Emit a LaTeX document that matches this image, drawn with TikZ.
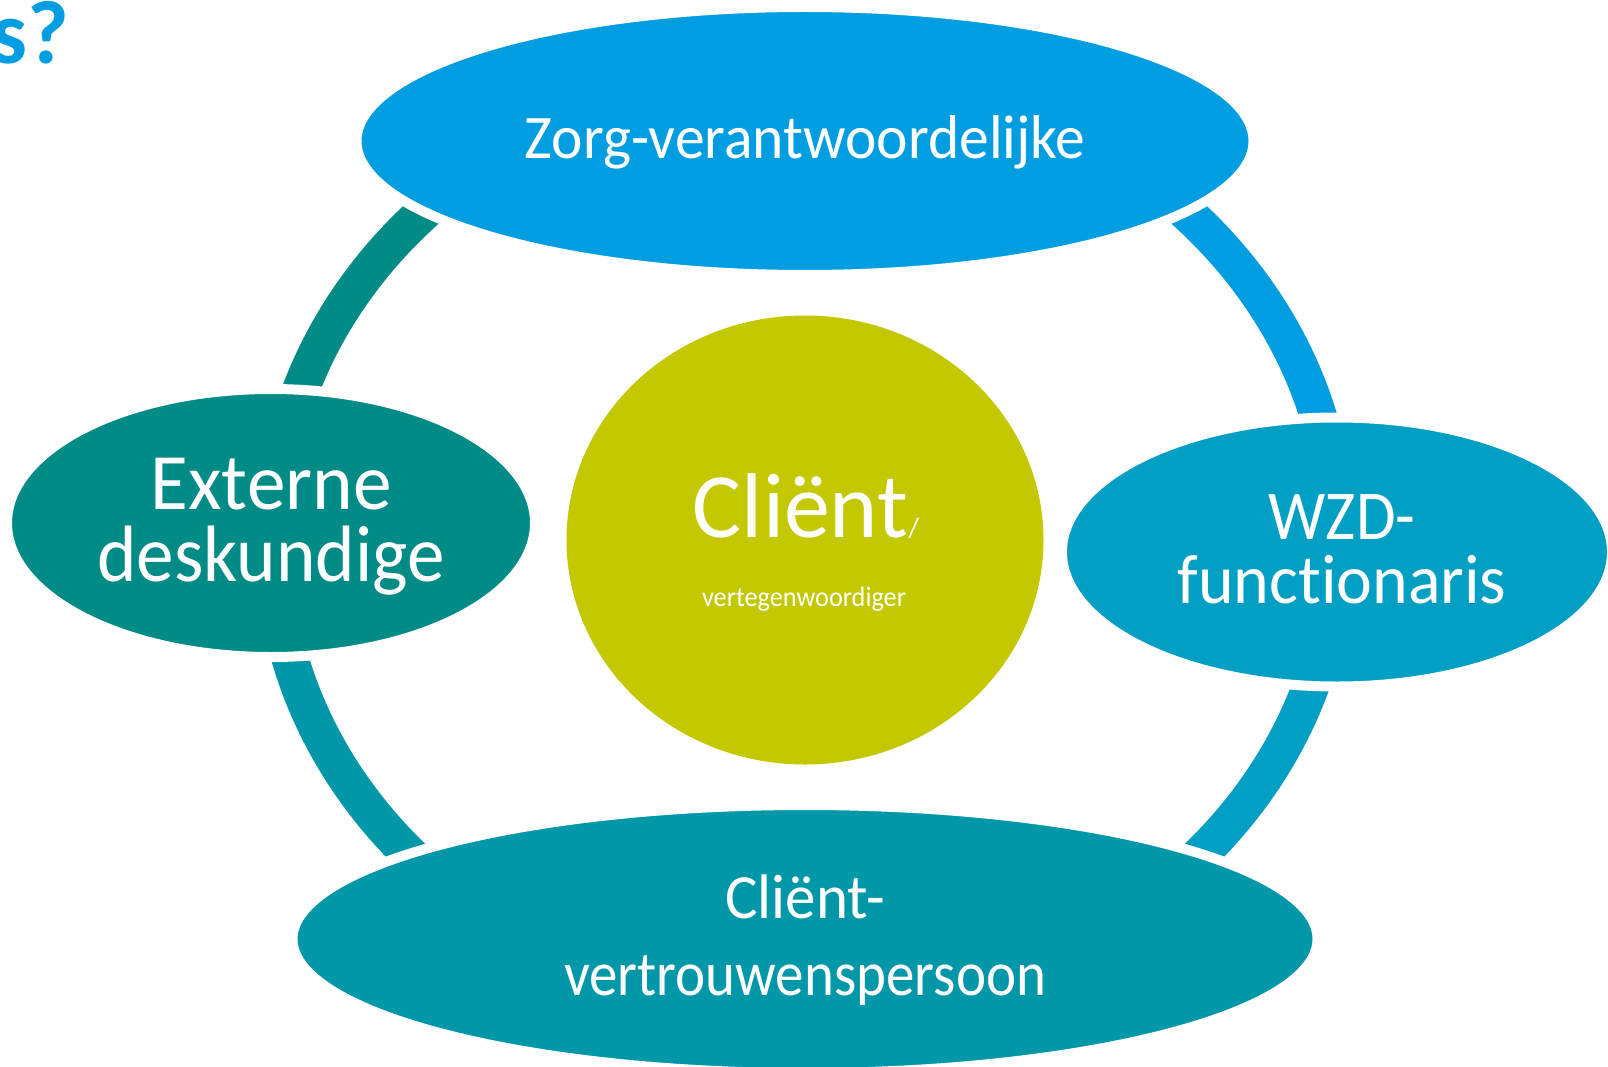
\documentclass[tikz,border=0pt]{standalone}
\usepackage{fontspec}
\usepackage{graphicx}
\setmainfont{Carlito}[Ligatures={NoCommon}]
\usetikzlibrary{shapes.geometric}
\definecolor{cTop}{RGB}{0,158,224}
\definecolor{cLeft}{RGB}{0,139,135}
\definecolor{cRight}{RGB}{0,159,195}
\definecolor{cBottom}{RGB}{0,152,168}
\definecolor{cCenter}{RGB}{196,200,0}
\tikzset{
  ringseg/.style={line width=37pt},
  bubble/.style={ellipse, draw=white, line width=10pt, inner sep=0pt},
  lbl/.style={anchor=base, inner sep=0pt, text=white},
}
\newcommand{\sx}[2]{\scalebox{#1}[1]{#2}}
\begin{document}
\begin{tikzpicture}[x=1pt,y=-1pt]
\useasboundingbox (0,0) rectangle (1608,1067);
% ring segments
\draw[ringseg,draw=cTop] (805,70) arc[start angle=-90,end angle=0,x radius=532,y radius=470];
\draw[ringseg,draw=cLeft] (273,540) arc[start angle=-180,end angle=-90,x radius=532,y radius=470];
\draw[ringseg,draw=cBottom] (273,540) arc[start angle=180,end angle=90,x radius=532,y radius=470];
\draw[ringseg,draw=cRight] (1337,540) arc[start angle=0,end angle=90,x radius=532,y radius=470];
% bubbles
\node[bubble, fill=cTop, minimum width=897pt, minimum height=268pt] (zorg) at (805,141) {};
\node[bubble, fill=cLeft, minimum width=528pt, minimum height=268pt] (extern) at (271,523) {};
\node[bubble, fill=cRight, minimum width=550pt, minimum height=269pt] (wzd) at (1337,552) {};
\node[bubble, fill=cBottom, minimum width=1025pt, minimum height=268pt] (cvp) at (805,939) {};
\node[ellipse, fill=cCenter, inner sep=0pt, minimum width=477pt, minimum height=449pt] (client) at (805,540) {};
% texts
\node[lbl, font=\fontsize{62}{62}\selectfont] (zorgtxt) at (805,159) {\sx{0.96}{Zorg-verantwoordelijke}};
\node[lbl, font=\fontsize{80}{80}\selectfont] (exttxta) at (271,509) {\sx{0.966}{Externe}};
\node[lbl, font=\fontsize{80}{80}\selectfont] (exttxtb) at (271,581) {\sx{0.94}{deskundige}};
\node[lbl, font=\fontsize{70}{70}\selectfont] (wzdtxta) at (1342,539) {\sx{0.92}{WZD-}};
\node[lbl, font=\fontsize{70}{70}\selectfont] (wzdtxtb) at (1342,603) {\sx{0.97}{functionaris}};
\node[lbl, font=\fontsize{63}{63}\selectfont] (cvptxta) at (805,918) {\sx{0.97}{Cliënt-}};
\node[lbl, font=\fontsize{63}{63}\selectfont] (cvptxtb) at (805,995) {\sx{0.905}{vertrouwenspersoon}};
\node[lbl, font=\fontsize{92}{92}\selectfont] (clienttxta) at (806,537) {Cliënt{\fontsize{28}{28}\selectfont/}};
\node[lbl, font=\fontsize{28}{28}\selectfont] (clienttxtb) at (804,606) {\sx{0.94}{vertegenwoordiger}};
\node[anchor=base west, inner sep=0pt, text=cTop, font=\bfseries\fontsize{90}{90}\selectfont] (title) at (-9,64) {s?};
\end{tikzpicture}
\end{document}
